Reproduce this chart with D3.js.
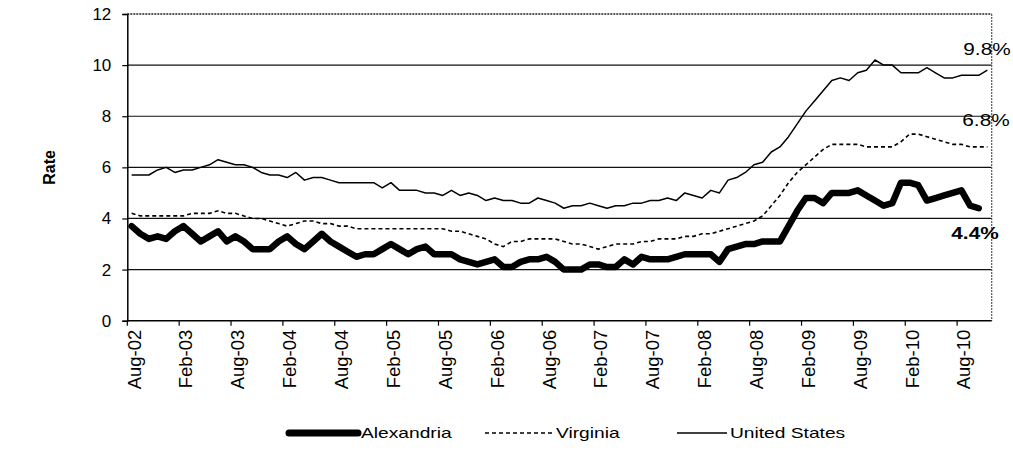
<!DOCTYPE html>
<html><head><meta charset="utf-8">
<script src="https://cdn.jsdelivr.net/npm/d3@7"></script>
<style>
body{margin:0;background:#fff}
svg{display:block}
text{font-family:"Liberation Sans",Arial,sans-serif;fill:#000}
</style>
</head><body>
<svg id="c" width="1013" height="461"></svg>
<script>
const categories = [
"Aug-02","Sep-02","Oct-02","Nov-02","Dec-02",
"Jan-03","Feb-03","Mar-03","Apr-03","May-03","Jun-03","Jul-03","Aug-03","Sep-03","Oct-03","Nov-03","Dec-03",
"Jan-04","Feb-04","Mar-04","Apr-04","May-04","Jun-04","Jul-04","Aug-04","Sep-04","Oct-04","Nov-04","Dec-04",
"Jan-05","Feb-05","Mar-05","Apr-05","May-05","Jun-05","Jul-05","Aug-05","Sep-05","Oct-05","Nov-05","Dec-05",
"Jan-06","Feb-06","Mar-06","Apr-06","May-06","Jun-06","Jul-06","Aug-06","Sep-06","Oct-06","Nov-06","Dec-06",
"Jan-07","Feb-07","Mar-07","Apr-07","May-07","Jun-07","Jul-07","Aug-07","Sep-07","Oct-07","Nov-07","Dec-07",
"Jan-08","Feb-08","Mar-08","Apr-08","May-08","Jun-08","Jul-08","Aug-08","Sep-08","Oct-08","Nov-08","Dec-08",
"Jan-09","Feb-09","Mar-09","Apr-09","May-09","Jun-09","Jul-09","Aug-09","Sep-09","Oct-09","Nov-09","Dec-09",
"Jan-10","Feb-10","Mar-10","Apr-10","May-10","Jun-10","Jul-10","Aug-10","Sep-10","Oct-10","Nov-10"];

const tickLabels = ["Aug-02","Feb-03","Aug-03","Feb-04","Aug-04","Feb-05","Aug-05","Feb-06","Aug-06",
"Feb-07","Aug-07","Feb-08","Aug-08","Feb-09","Aug-09","Feb-10","Aug-10"];
const yTicks = [0,2,4,6,8,10,12];

const unitedStates = [
5.7,5.7,5.7,5.9,6.0,
5.8,5.9,5.9,6.0,6.1,6.3,6.2,6.1,6.1,6.0,5.8,5.7,
5.7,5.6,5.8,5.5,5.6,5.6,5.5,5.4,5.4,5.4,5.4,5.4,
5.2,5.4,5.1,5.1,5.1,5.0,5.0,4.9,5.1,4.9,5.0,4.9,
4.7,4.8,4.7,4.7,4.6,4.6,4.8,4.7,4.6,4.4,4.5,4.5,
4.6,4.5,4.4,4.5,4.5,4.6,4.6,4.7,4.7,4.8,4.7,5.0,
4.9,4.8,5.1,5.0,5.5,5.6,5.8,6.1,6.2,6.6,6.8,7.2,
7.7,8.2,8.6,9.0,9.4,9.5,9.4,9.7,9.8,10.2,10.0,10.0,
9.7,9.7,9.7,9.9,9.7,9.5,9.5,9.6,9.6,9.6,9.8];

const virginia = [
4.2,4.1,4.1,4.1,4.1,
4.1,4.1,4.2,4.2,4.2,4.3,4.2,4.2,4.1,4.0,4.0,3.9,
3.8,3.7,3.8,3.9,3.9,3.8,3.8,3.7,3.7,3.6,3.6,3.6,
3.6,3.6,3.6,3.6,3.6,3.6,3.6,3.6,3.5,3.5,3.4,3.3,
3.2,3.0,2.9,3.1,3.1,3.2,3.2,3.2,3.2,3.1,3.0,3.0,
2.9,2.8,2.9,3.0,3.0,3.0,3.1,3.1,3.2,3.2,3.2,3.3,
3.3,3.4,3.4,3.5,3.6,3.7,3.8,3.9,4.1,4.5,4.9,5.4,
5.8,6.1,6.4,6.7,6.9,6.9,6.9,6.9,6.8,6.8,6.8,6.8,
7.0,7.3,7.3,7.2,7.1,7.0,6.9,6.9,6.8,6.8,6.8];

const alexandria = [
3.7,3.4,3.2,3.3,3.2,
3.5,3.7,3.4,3.1,3.3,3.5,3.1,3.3,3.1,2.8,2.8,2.8,
3.1,3.3,3.0,2.8,3.1,3.4,3.1,2.9,2.7,2.5,2.6,2.6,
2.8,3.0,2.8,2.6,2.8,2.9,2.6,2.6,2.6,2.4,2.3,2.2,
2.3,2.4,2.1,2.1,2.3,2.4,2.4,2.5,2.3,2.0,2.0,2.0,
2.2,2.2,2.1,2.1,2.4,2.2,2.5,2.4,2.4,2.4,2.5,2.6,
2.6,2.6,2.6,2.3,2.8,2.9,3.0,3.0,3.1,3.1,3.1,3.7,
4.3,4.8,4.8,4.6,5.0,5.0,5.0,5.1,4.9,4.7,4.5,4.6,
5.4,5.4,5.3,4.7,4.8,4.9,5.0,5.1,4.5,4.4];

const seriesNames = ["Alexandria","Virginia","United States"];
const endLabels = ["4.4%","6.8%","9.8%"];

const L = 127.3, R = 991.7, T = 14, B = 320.7;
const svg = d3.select("#c");

const x = d3.scaleBand().domain(categories).range([L, R]).padding(0);
const cx = c => x(c) + x.bandwidth() / 2;
const y = d3.scaleLinear().domain([0, 12]).range([B, T]);

// gridlines
svg.append("g").selectAll("line").data(yTicks.filter(v => v > 0 && v < 12)).join("line")
  .attr("x1", L).attr("x2", R).attr("y1", d => y(d)).attr("y2", d => y(d))
  .attr("stroke", "#111").attr("stroke-width", 1.2);

// plot border top / right (dotted)
svg.append("line").attr("x1", L).attr("x2", R).attr("y1", y(12)).attr("y2", y(12))
  .attr("stroke", "#222").attr("stroke-width", 1.4).attr("stroke-dasharray", "2,1");
svg.append("line").attr("x1", R).attr("x2", R).attr("y1", y(12)).attr("y2", y(0))
  .attr("stroke", "#555").attr("stroke-width", 1.2).attr("stroke-dasharray", "2,1");

// y axis
const yAxis = svg.append("g").attr("transform", `translate(${L},0)`)
  .call(d3.axisLeft(y).tickValues(yTicks).tickSize(5).tickPadding(11).tickFormat(d3.format("d")));
yAxis.select(".domain").attr("stroke", "#000").attr("stroke-width", 1.5);
yAxis.selectAll(".tick line").attr("stroke", "#000").attr("stroke-width", 1.2);
yAxis.selectAll("text").attr("font-size", 17).attr("font-family", "Liberation Sans, Arial, sans-serif").attr("fill", "#000");

// x axis
const xg = svg.append("g");
xg.append("line").attr("x1", L).attr("x2", R).attr("y1", B).attr("y2", B).attr("stroke", "#000").attr("stroke-width", 1.5);
xg.selectAll("line.tk").data(tickLabels).join("line").attr("class", "tk")
  .attr("x1", d => x(d)).attr("x2", d => x(d)).attr("y1", B).attr("y2", B + 5)
  .attr("stroke", "#000").attr("stroke-width", 1.2);
xg.selectAll("text").data(tickLabels).join("text")
  .attr("transform", d => `translate(${cx(d) + 2.5},${B + 9}) rotate(-90)`)
  .attr("text-anchor", "end").attr("dy", "0.35em")
  .attr("font-size", 18.5).text(d => d);

// axis title
svg.append("text").attr("transform", `translate(49,${(T + B) / 2}) rotate(-90)`)
  .attr("text-anchor", "middle").attr("dy", "0.35em")
  .attr("font-size", 16).attr("font-weight", "bold").text("Rate");

// lines
const line = d3.line().x((d, i) => cx(categories[i])).y(d => y(d));
svg.append("path").datum(unitedStates).attr("d", line)
  .attr("fill", "none").attr("stroke", "#000").attr("stroke-width", 1.5).attr("stroke-linejoin", "round");
svg.append("path").datum(virginia).attr("d", line)
  .attr("fill", "none").attr("stroke", "#000").attr("stroke-width", 1.6).attr("stroke-dasharray", "4,3");
svg.append("path").datum(alexandria).attr("d", line)
  .attr("fill", "none").attr("stroke", "#000").attr("stroke-width", 6.5)
  .attr("stroke-linejoin", "round").attr("stroke-linecap", "round");

// end labels
const ann = [
  {t: endLabels[2], x: 987, y: y(unitedStates[unitedStates.length - 1]) - 21, b: false},
  {t: endLabels[1], x: 986, y: y(virginia[virginia.length - 1]) - 27, b: false},
  {t: endLabels[0], x: 975, y: y(alexandria[alexandria.length - 1]) + 25, b: true}
];
svg.selectAll("text.ann").data(ann).join("text").attr("class", "ann")
  .attr("transform", d => `translate(${d.x},${d.y}) scale(1.3,1)`)
  .attr("text-anchor", "middle").attr("dy", "0.35em")
  .attr("font-size", 16).attr("font-weight", d => d.b ? "bold" : "normal").text(d => d.t);

// legend
const ly = 433;
const leg = [
  {name: seriesNames[0], x1: 289, x2: 358, w: 7, dash: null},
  {name: seriesNames[1], x1: 485, x2: 553, w: 1.6, dash: "4,3"},
  {name: seriesNames[2], x1: 677, x2: 727, w: 1.5, dash: null}
];
const lg = svg.append("g");
leg.forEach(d => {
  lg.append("line").attr("x1", d.x1).attr("x2", d.x2).attr("y1", ly).attr("y2", ly)
    .attr("stroke", "#000").attr("stroke-width", d.w).attr("stroke-dasharray", d.dash)
    .attr("stroke-linecap", d.w > 3 ? "round" : "butt");
  lg.append("text").attr("transform", `translate(${d.x2 + 3},${ly}) scale(1.28,1)`)
    .attr("dy", "0.35em").attr("font-size", 15).text(d.name);
});
</script>
</body></html>
